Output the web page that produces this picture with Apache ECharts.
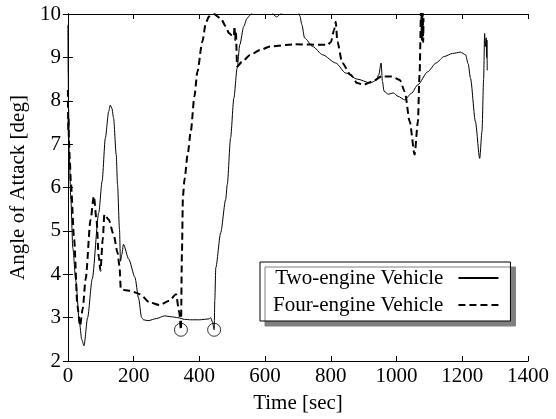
<!DOCTYPE html>
<html>
<head>
<meta charset="utf-8">
<script src="https://cdn.jsdelivr.net/npm/echarts@6/dist/echarts.min.js"></script>
<style>
  html, body { margin: 0; padding: 0; background: #fff; }
  #chart { width: 556px; height: 419px; }
</style>
</head>
<body>
<div id="chart"></div>
<script>
// Angle of attack histories [time (s), angle (deg)]
const twoEngine = [
  [0, 9.75], [1, 8.6], [2, 7.8], [4, 6.8], [9, 5.72], [15, 4.6], [24, 3.85], [35, 2.9],
  [42, 2.5], [49, 2.35], [60, 3.0], [74, 3.89], [94, 5.42], [104, 6.14], [114, 7.14],
  [124, 7.75], [129, 7.9], [134, 7.82], [139, 7.6], [147, 6.76], [151, 6.07], [157, 5.03],
  [160, 4.3], [164, 4.45], [169, 4.69], [185, 4.35], [204, 3.93], [215, 3.45], [224, 3.01],
  [230, 2.95], [244, 2.93], [270, 2.98], [294, 3.04], [315, 3.02], [334, 3.0], [355, 2.96],
  [374, 2.95], [400, 2.95], [430, 2.97], [434, 3.0], [440, 2.9], [445, 2.72], [447, 3.4],
  [450, 4.15], [465, 4.96], [480, 5.72], [485, 6.07], [495, 7.14], [505, 8.06], [515, 8.75],
  [523, 9.29], [535, 9.71], [545, 9.9], [555, 9.98], [570, 10.1], [600, 10.15], [620, 10.03],
  [635, 9.93], [650, 10.02], [680, 10.2], [700, 10.1], [706, 9.95], [712, 9.75], [720, 9.45],
  [745, 9.25], [775, 9.06], [815, 8.87], [845, 8.64], [880, 8.5], [920, 8.41], [938, 8.47],
  [946, 8.6], [953, 8.87], [957, 8.45], [962, 8.22], [975, 8.15], [990, 8.18], [1005, 8.1],
  [1025, 8.02], [1045, 8.17], [1065, 8.37], [1095, 8.67], [1120, 8.87], [1145, 9.02],
  [1170, 9.09], [1195, 9.12], [1210, 9.06], [1218, 8.85], [1225, 8.52], [1240, 7.52],
  [1253, 6.67], [1260, 7.29], [1265, 8.5], [1268, 9.55], [1270, 9.25], [1273, 9.45],
  [1274, 9.0], [1275, 9.4], [1276, 8.7]
];

const fourEngine = [
  [0, 8.25], [1, 7.3], [2, 7.6], [3, 7.1], [6, 6.6], [9, 6.1], [19, 4.8], [29, 3.27],
  [37, 2.81], [45, 3.2], [54, 3.89], [69, 5.26], [79, 5.8], [87, 5.26], [94, 4.4],
  [99, 4.08], [106, 4.8], [111, 5.38], [124, 5.26], [139, 4.92], [151, 4.5], [157, 4.19],
  [161, 3.66], [175, 3.63], [189, 3.62], [219, 3.54], [249, 3.35], [279, 3.29], [309, 3.39],
  [329, 3.54], [339, 3.12], [344, 2.72], [347, 4.5], [350, 5.8], [355, 6.2], [365, 6.8],
  [374, 7.3], [385, 8.1], [394, 8.67], [409, 9.36], [420, 9.8], [429, 9.94], [444, 10.0],
  [465, 9.9], [480, 9.72], [490, 9.56], [500, 9.5], [505, 9.48], [507, 9.72], [509, 9.4],
  [511, 9.6], [515, 8.79], [530, 8.9], [555, 9.06], [585, 9.17], [615, 9.25], [685, 9.3],
  [790, 9.29], [800, 9.35], [810, 9.63], [815, 9.82], [820, 9.36], [835, 8.87], [860, 8.6],
  [880, 8.41], [900, 8.37], [925, 8.44], [955, 8.56], [985, 8.56], [1010, 8.48],
  [1025, 8.21], [1040, 7.52], [1055, 6.76], [1065, 7.52], [1070, 8.6], [1075, 10.2],
  [1077, 9.4], [1078, 10.1], [1079, 9.5], [1080, 10.05], [1081, 9.35], [1082, 9.9]
];

// Points where each vehicle's angle reaches its low before the pull-up
const markedPoints = [[344, 2.72], [445, 2.72]];

const timeTicks = [0, 200, 400, 600, 800, 1000, 1200, 1400];
const angleTicks = [2, 3, 4, 5, 6, 7, 8, 9, 10];

const FONT = 'Liberation Serif';
const chart = echarts.init(document.getElementById('chart'));

const boxAxis = {
  axisLine: { show: true, lineStyle: { color: '#000', width: 1 } },
  axisTick: { show: true, inside: true, length: 5, lineStyle: { color: '#000' } },
  splitLine: { show: false }
};
const plain = v => String(v);

chart.setOption({
  animation: false,
  backgroundColor: '#fff',
  grid: { left: 62, right: 28, top: 14, bottom: 57 },
  xAxis: [
    Object.assign({
      type: 'value', position: 'bottom',
      min: timeTicks[0], max: timeTicks[timeTicks.length - 1], interval: 200,
      name: 'Time [sec]', nameLocation: 'middle', nameGap: 32,
      nameTextStyle: { fontFamily: FONT, fontSize: 21, color: '#000' },
      axisLabel: { fontFamily: FONT, fontSize: 21, color: '#000', margin: 5, formatter: plain }
    }, boxAxis),
    Object.assign({
      type: 'value', position: 'top',
      min: timeTicks[0], max: timeTicks[timeTicks.length - 1], interval: 200,
      axisLabel: { show: false }
    }, boxAxis)
  ],
  yAxis: [
    Object.assign({
      type: 'value', position: 'left',
      min: angleTicks[0], max: angleTicks[angleTicks.length - 1], interval: 1,
      name: 'Angle of Attack [deg]', nameLocation: 'middle', nameGap: 33,
      nameTextStyle: { fontFamily: FONT, fontSize: 21, color: '#000' },
      axisLabel: { fontFamily: FONT, fontSize: 21, color: '#000', margin: 7, formatter: plain }
    }, boxAxis),
    Object.assign({
      type: 'value', position: 'right',
      min: angleTicks[0], max: angleTicks[angleTicks.length - 1], interval: 1,
      axisLabel: { show: false }
    }, boxAxis)
  ],
  legend: {
    data: ['Two-engine Vehicle', 'Four-engine Vehicle'],
    orient: 'vertical',
    align: 'right',
    left: 260,
    top: 262,
    padding: [5, 11, 5, 13],
    itemGap: 5,
    itemWidth: 40,
    itemHeight: 22,
    backgroundColor: '#fff',
    borderColor: '#000',
    borderWidth: 1,
    borderRadius: 0,
    shadowColor: '#808080',
    shadowBlur: 0,
    shadowOffsetX: 5,
    shadowOffsetY: 5,
    itemStyle: { color: 'rgba(0,0,0,0)', borderWidth: 0, opacity: 0 },
    textStyle: { fontFamily: FONT, fontSize: 21, color: '#000', lineHeight: 22, padding: [0, 10, 0, 0] }
  },
  series: [
    {
      name: 'Two-engine Vehicle', type: 'line', data: twoEngine,
      symbol: 'none', smooth: 0.25, smoothMonotone: 'x', clip: true,
      itemStyle: { color: '#000' },
      lineStyle: { color: '#000', width: 1 }
    },
    {
      name: 'Four-engine Vehicle', type: 'line', data: fourEngine,
      symbol: 'none', smooth: 0.25, smoothMonotone: 'x', clip: true,
      itemStyle: { color: '#000' },
      lineStyle: { color: '#000', width: 2, type: [7, 4] }
    },
    {
      name: 'markers', type: 'scatter', data: markedPoints,
      symbol: 'circle', symbolSize: 13, silent: true,
      itemStyle: { color: 'rgba(0,0,0,0)', borderColor: '#000', borderWidth: 1 }
    }
  ]
});
</script>
</body>
</html>
